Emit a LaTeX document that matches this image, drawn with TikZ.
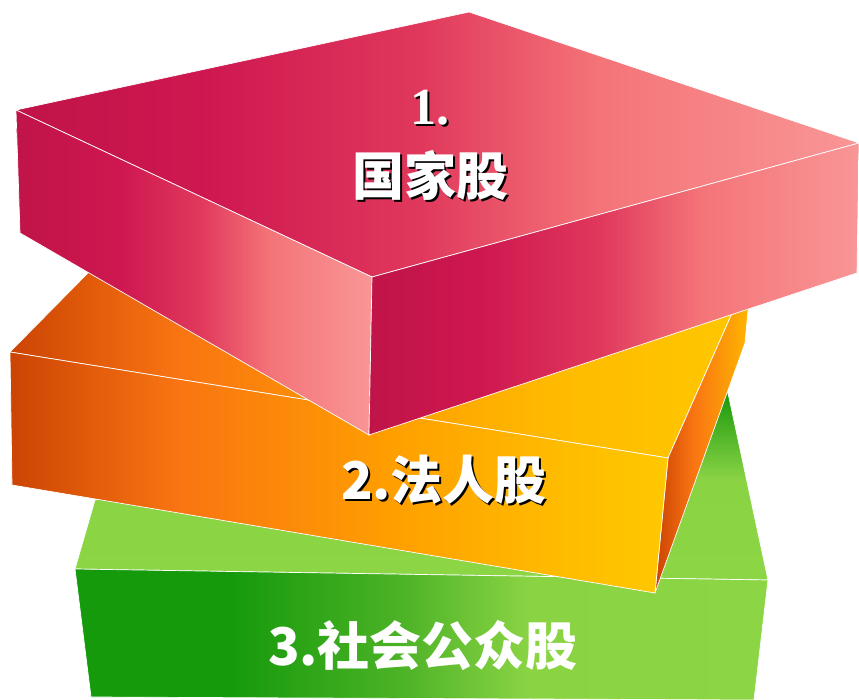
\documentclass[tikz,border=0pt]{standalone}
\usepackage{fontspec}
\setmainfont{Liberation Serif}
\newfontfamily\cjk{Noto Sans CJK SC}
\usetikzlibrary{positioning}

% colours of the three slabs
\definecolor{magA}{HTML}{C01448}
\definecolor{magB}{HTML}{CE1750}
\definecolor{magC}{HTML}{E0385C}
\definecolor{magD}{HTML}{F47478}
\definecolor{magE}{HTML}{F99696}
\definecolor{orgA}{HTML}{CC4404}
\definecolor{orgB}{HTML}{F97512}
\definecolor{orgC}{HTML}{FFA000}
\definecolor{orgD}{HTML}{FFBA00}
\definecolor{orgE}{HTML}{FFC800}
\definecolor{grnA}{HTML}{159A0B}
\definecolor{grnB}{HTML}{4CB226}
\definecolor{grnC}{HTML}{8AD444}
\definecolor{grnD}{HTML}{8CD646}

% bounding box of a face maps to 25bp..75bp
\pgfdeclarehorizontalshading{magTop}{100bp}{color(0bp)=(magA); color(25bp)=(magA); color(36bp)=(magB); color(49bp)=(magC); color(59.6bp)=(magD); color(75bp)=(magE); color(100bp)=(magE)}
\pgfdeclarehorizontalshading{magLeft}{100bp}{color(0bp)=(magA); color(25bp)=(magA); color(39.6bp)=(magB); color(50.8bp)=(magC); color(60.7bp)=(magD); color(75bp)=(magE); color(100bp)=(magE)}
\pgfdeclarehorizontalshading{magRight}{100bp}{color(0bp)=(magA); color(25bp)=(magA); color(36.3bp)=(magB); color(48.6bp)=(magC); color(58.8bp)=(magD); color(75bp)=(magE); color(100bp)=(magE)}
\pgfdeclarehorizontalshading{orgFront}{100bp}{color(0bp)=(orgA); color(25bp)=(orgA); color(37.9bp)=(orgB); color(54.6bp)=(orgC); color(66bp)=(orgD); color(75bp)=(orgE); color(100bp)=(orgE)}
\pgfdeclarehorizontalshading{orgTop}{100bp}{color(0bp)=(orgA); color(25bp)=(orgA); color(36.5bp)=(orgB); color(51.3bp)=(orgC); color(61.4bp)=(orgD); color(75bp)=(orgE); color(100bp)=(orgE)}
\pgfdeclarehorizontalshading{orgRight}{100bp}{color(0bp)=(orgA); color(25bp)=(orgA); color(45bp)=(orgB); color(75bp)=(orgD); color(100bp)=(orgD)}
\pgfdeclarehorizontalshading{grnFront}{100bp}{color(0bp)=(grnA); color(25bp)=(grnA); color(36.2bp)=(grnA); color(48.4bp)=(grnB); color(57.8bp)=(grnC); color(75bp)=(grnD); color(100bp)=(grnD)}
\pgfdeclareverticalshading{grnTop}{100bp}{color(0bp)=(grnD); color(25bp)=(grnD); color(51.7bp)=(grnC); color(65bp)=(grnB); color(75bp)=(grnA); color(100bp)=(grnA)}

% white text with a black drop shadow
\newcommand\dropshade[1]{\rlap{\kern2pt\raisebox{-2pt}[0pt][0pt]{\color{black}#1}}#1}

\begin{document}
\begin{tikzpicture}[
    x=1pt, y=-1pt,
    face/.style={draw=white, line width=0.7pt, line join=round},
    lbl/.style={text=white, inner sep=0pt, font=\cjk\bfseries\fontsize{52}{60}\selectfont},
    numlbl/.style={text=white, inner sep=0pt, font=\bfseries\fontsize{52}{60}\selectfont}
]
    \useasboundingbox (0,0) rectangle (859,700);

    % 3: green slab
    \shade[face, shading=grnTop]   (75,569) -- (95,500) -- (728,393) -- (768,580) -- cycle;
    \shade[face, shading=grnFront] (75,569) -- (768,580) -- (754,700) -- (91,697) -- cycle;

    % 2: orange slab
    \shade[face, shading=orgTop]   (10,352) -- (150,210) -- (752,268) -- (668,458) -- cycle;
    \shade[face, shading=orgRight] (668,458) -- (752,268) -- (745,343) -- (655,593) -- cycle;
    \shade[face, shading=orgFront] (10,352) -- (668,458) -- (655,593) -- (12,485) -- cycle;

    % 1: magenta slab
    \shade[face, shading=magTop]   (16,110) -- (469,12) -- (859,143) -- (372,277) -- cycle;
    \shade[face, shading=magLeft]  (16,110) -- (372,277) -- (369,435) -- (20,233) -- cycle;
    \shade[face, shading=magRight] (372,277) -- (859,143) -- (857,273) -- (369,435) -- cycle;

    % labels
    \node[numlbl] (stateNum)  at (430,108) {\dropshade{1.}};
    \node[lbl]    (stateTxt)  at (430,175) {\dropshade{国家股}};
    \node[lbl]    (legalTxt)  at (444,480) {\dropshade{2.法人股}};
    \node[lbl]    (publicTxt) at (423,646) {3.社会公众股};

\end{tikzpicture}
\end{document}
